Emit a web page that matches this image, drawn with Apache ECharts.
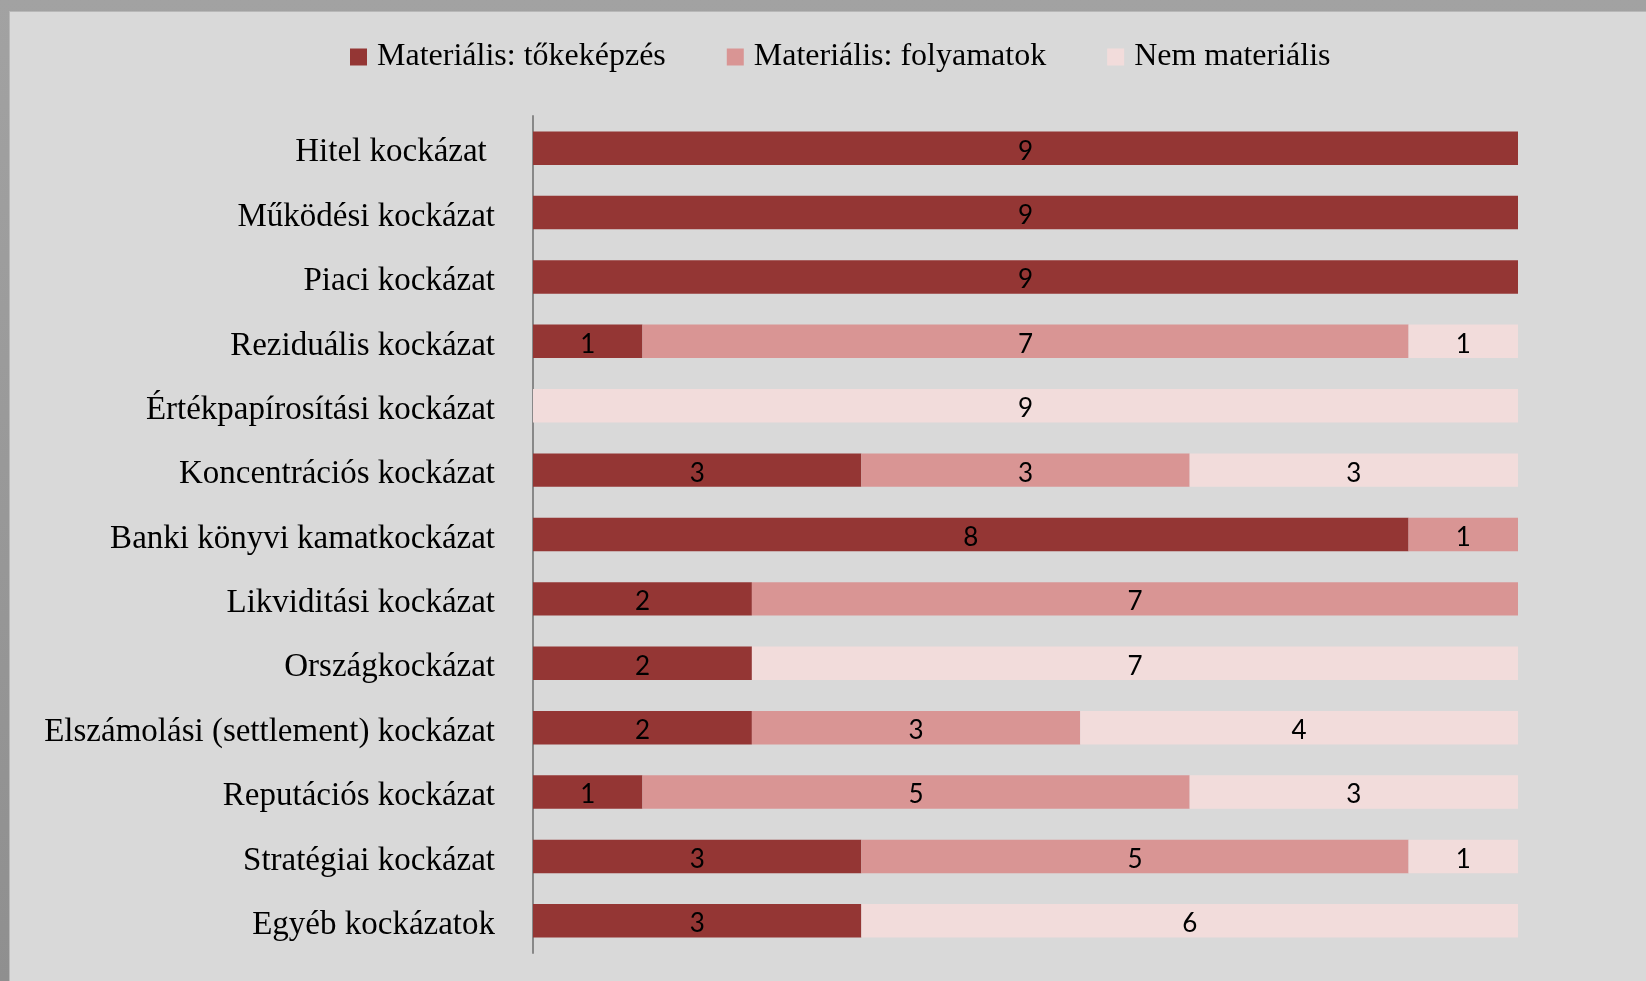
<!DOCTYPE html>
<html>
<head>
<meta charset="utf-8">
<script src="https://cdn.jsdelivr.net/npm/echarts@6/dist/echarts.min.js"></script>
<style>
  html, body { margin: 0; padding: 0; width: 1646px; height: 981px; overflow: hidden;
    background: linear-gradient(#a2a2a2, #8f8f8f); }
  #chart { position: absolute; left: 9px; top: 11px; width: 1637px; height: 970px;
    background: #d9d9d9; box-shadow: inset 1px 1px 0 #b8b8b8; }
</style>
</head>
<body>
<div id="chart"></div>
<script>
var categories = [
    "Hitel kockázat ",
    "Működési kockázat",
    "Piaci kockázat",
    "Reziduális kockázat",
    "Értékpapírosítási kockázat",
    "Koncentrációs kockázat",
    "Banki könyvi kamatkockázat",
    "Likviditási kockázat",
    "Országkockázat",
    "Elszámolási (settlement) kockázat",
    "Reputációs kockázat",
    "Stratégiai kockázat",
    "Egyéb kockázatok"
];
var seriesNames = ["Materiális: tőkeképzés", "Materiális: folyamatok", "Nem materiális"];
var tokekepzes = [9, 9, 9, 1, 0, 3, 8, 2, 2, 2, 1, 3, 3];
var folyamatok = [0, 0, 0, 7, 0, 3, 1, 7, 0, 3, 5, 5, 0];
var nemMaterialis = [0, 0, 0, 1, 9, 3, 0, 0, 7, 4, 3, 1, 6];
var colors = ["#943634", "#d99594", "#f2dcdb"];

var chart = echarts.init(document.getElementById("chart"));

function makeSeries(name, values, color) {
    return {
        name: name,
        type: "bar",
        stack: "total",
        barCategoryGap: "48%",
        data: values.map(function (v) { return v === 0 ? null : v; }),
        itemStyle: { color: color },
        label: {
            show: true,
            position: "inside",
            color: "#000",
            fontFamily: "Lato",
            fontSize: 26,
            offset: [0, 3]
        },
        emphasis: { disabled: true }
    };
}

chart.setOption({
    animation: false,
    color: colors,
    legend: {
        top: 25,
        left: 336,
        itemWidth: 17,
        itemHeight: 17,
        itemGap: 61,
        icon: "rect",
        textStyle: { fontFamily: "Liberation Serif", fontSize: 32, color: "#000", padding: [0, 0, 0, 5] },
        data: seriesNames
    },
    grid: { left: 524, right: 128, top: 105, bottom: 28 },
    xAxis: {
        type: "value",
        min: 0,
        max: 9,
        show: false
    },
    yAxis: {
        type: "category",
        inverse: true,
        data: categories,
        axisTick: { show: false },
        axisLine: { lineStyle: { color: "#888", width: 2 } },
        axisLabel: {
            margin: 38,
            color: "#000",
            formatter: function (v) { return "{c|" + v + "}"; },
            rich: {
                c: {
                    fontFamily: "Liberation Serif",
                    fontSize: 33,
                    color: "#000",
                    padding: [9, 0, 0, 0]
                }
            }
        }
    },
    series: [
        makeSeries(seriesNames[0], tokekepzes, colors[0]),
        makeSeries(seriesNames[1], folyamatok, colors[1]),
        makeSeries(seriesNames[2], nemMaterialis, colors[2])
    ]
});
</script>
</body>
</html>
